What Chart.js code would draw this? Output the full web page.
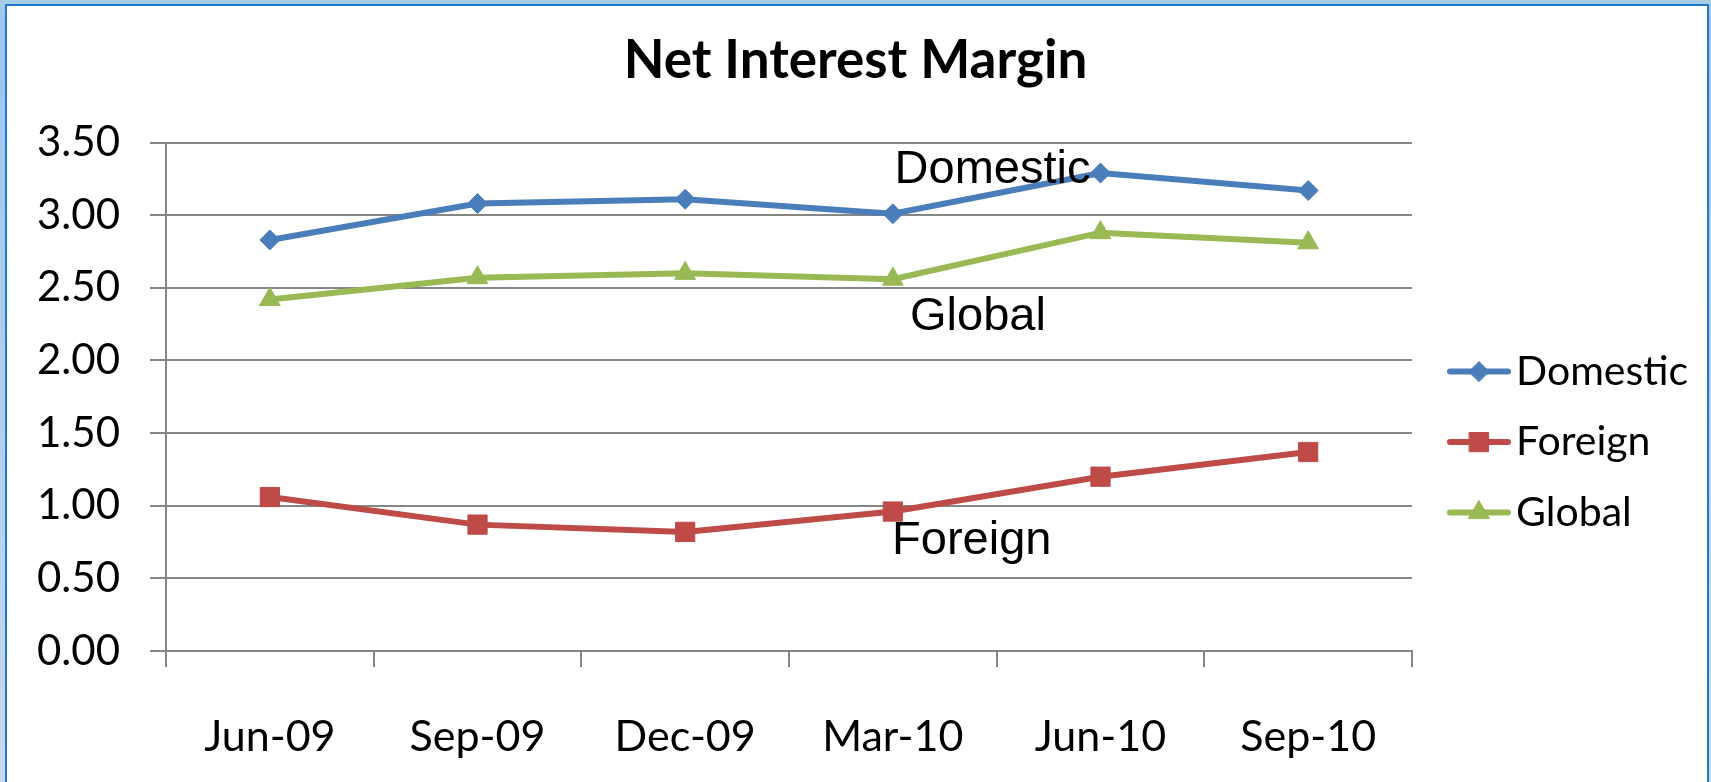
<!DOCTYPE html>
<html>
<head>
<meta charset="utf-8">
<title>Net Interest Margin</title>
<script src="https://cdn.jsdelivr.net/npm/chart.js@4.4.0/dist/chart.umd.min.js"></script>
<style>
  html, body { margin: 0; padding: 0; width: 1711px; height: 782px; overflow: hidden; }
  #outer { position: absolute; left: 0; top: 0; width: 1711px; height: 782px;
           background: linear-gradient(180deg, #a6cfe6 0px, #9cc6ee 20px, #c9d8ec 782px); }
  #inner { position: absolute; left: 5px; top: 4px; width: 1700px; height: 800px;
           background: #fff; border: 2px solid #1e78d0; border-bottom: none; }
  #myLineGraph { position: absolute; left: 0; top: 0; }
</style>
</head>
<body>
<div id="outer"><div id="inner"></div></div>
<canvas id="myLineGraph" width="1711" height="782"></canvas>
<script>
// quarters on the x axis
var categories = ["Jun-09", "Sep-09", "Dec-09", "Mar-10", "Jun-10", "Sep-10"];

// net interest margin, %
var domestic = [2.83, 3.08, 3.11, 3.01, 3.29, 3.17];
var foreign = [1.06, 0.87, 0.82, 0.96, 1.20, 1.37];
var global = [2.42, 2.57, 2.60, 2.56, 2.88, 2.81];

var yMin = 0;
var yMax = 3.5;
var yStep = 0.5;

// labels written inside the plot, placed on the scales (category index, value)
var inlineLabels = [
  { text: "Domestic", at: 3.48, value: 3.31 },
  { text: "Global", at: 3.41, value: 2.30 },
  { text: "Foreign", at: 3.38, value: 0.76 }
];

var gridGray = "#868686";

// line + marker legend on the right side
var sideLegend = {
  id: "sideLegend",
  afterDraw: function (chart) {
    var ctx = chart.ctx;
    var area = chart.chartArea;
    chart.data.datasets.forEach(function (ds, i) {
      var y = area.top + 229 + i * 70.5;
      var x0 = area.right + 38;
      ctx.save();
      ctx.strokeStyle = ds.borderColor;
      ctx.lineWidth = 6;
      ctx.lineCap = "round";
      ctx.beginPath();
      ctx.moveTo(x0, y);
      ctx.lineTo(x0 + 58, y);
      ctx.stroke();
      ctx.fillStyle = ds.backgroundColor;
      ctx.lineWidth = 1;
      Chart.helpers.drawPoint(ctx, {
        pointStyle: ds.pointStyle,
        radius: ds.pointRadius,
        rotation: 0,
        borderWidth: 1
      }, x0 + 29, y);
      ctx.fillStyle = "#000";
      ctx.font = "41px Lato";
      ctx.textAlign = "left";
      ctx.textBaseline = "middle";
      ctx.fillText(ds.label, x0 + 66, y);
      ctx.restore();
    });
  }
};

// the series names written next to the lines
var lineNames = {
  id: "lineNames",
  afterDatasetsDraw: function (chart) {
    var ctx = chart.ctx;
    var xs = chart.scales.x;
    var ys = chart.scales.y;
    ctx.save();
    ctx.fillStyle = "#000";
    ctx.font = "47px 'Liberation Sans'";
    ctx.textAlign = "center";
    ctx.textBaseline = "middle";
    inlineLabels.forEach(function (l) {
      ctx.fillText(l.text, xs.getPixelForValue(l.at), ys.getPixelForValue(l.value));
    });
    ctx.restore();
  }
};

var ctxLine = document.getElementById("myLineGraph").getContext("2d");

var myLineGraph = new Chart(ctxLine, {
  type: "line",
  data: {
    labels: categories,
    datasets: [
      {
        label: "Domestic",
        data: domestic,
        borderColor: "#4a7ebb",
        backgroundColor: "#4a7ebb",
        borderWidth: 6,
        pointStyle: "rectRot",
        pointRadius: 10,
        pointBorderWidth: 1,
        tension: 0
      },
      {
        label: "Foreign",
        data: foreign,
        borderColor: "#be4b48",
        backgroundColor: "#be4b48",
        borderWidth: 6,
        pointStyle: "rect",
        pointRadius: 13.6,
        pointBorderWidth: 1,
        tension: 0
      },
      {
        label: "Global",
        data: global,
        borderColor: "#98b954",
        backgroundColor: "#98b954",
        borderWidth: 6,
        pointStyle: "triangle",
        pointRadius: 12,
        pointBorderWidth: 1,
        tension: 0
      }
    ]
  },
  options: {
    responsive: false,
    animation: false,
    layout: {
      padding: { left: 0, right: 0, top: 0, bottom: 0 }
    },
    plugins: {
      legend: { display: false },
      tooltip: { enabled: false },
      title: {
        display: true,
        text: "Net Interest Margin",
        color: "#000",
        font: { family: "Lato", size: 53, weight: "bold" },
        padding: { top: 29, bottom: 50 }
      }
    },
    scales: {
      x: {
        offset: true,
        grid: {
          offset: true,
          drawOnChartArea: false,
          drawTicks: true,
          tickLength: 16,
          color: gridGray,
          lineWidth: 2
        },
        border: { display: true, color: gridGray, width: 2 },
        ticks: {
          color: "#000",
          font: { family: "Lato", size: 43 },
          padding: 44,
          maxRotation: 0
        },
        afterFit: function (scale) { scale.height = 131; }
      },
      y: {
        min: yMin,
        max: yMax,
        grid: {
          color: gridGray,
          lineWidth: 2,
          tickLength: 16
        },
        border: { display: true, color: gridGray, width: 2 },
        ticks: {
          stepSize: yStep,
          color: "#000",
          font: { family: "Lato", size: 42 },
          padding: 30,
          callback: function (v) { return Number(v).toFixed(2); }
        },
        afterFit: function (scale) { scale.width = 166; }
      },
      legendSpace: {
        type: "linear",
        position: "right",
        display: true,
        grid: { display: false },
        border: { display: false },
        ticks: { display: false },
        afterFit: function (scale) { scale.width = 299; }
      }
    }
  },
  plugins: [lineNames, sideLegend]
});
</script>
</body>
</html>
